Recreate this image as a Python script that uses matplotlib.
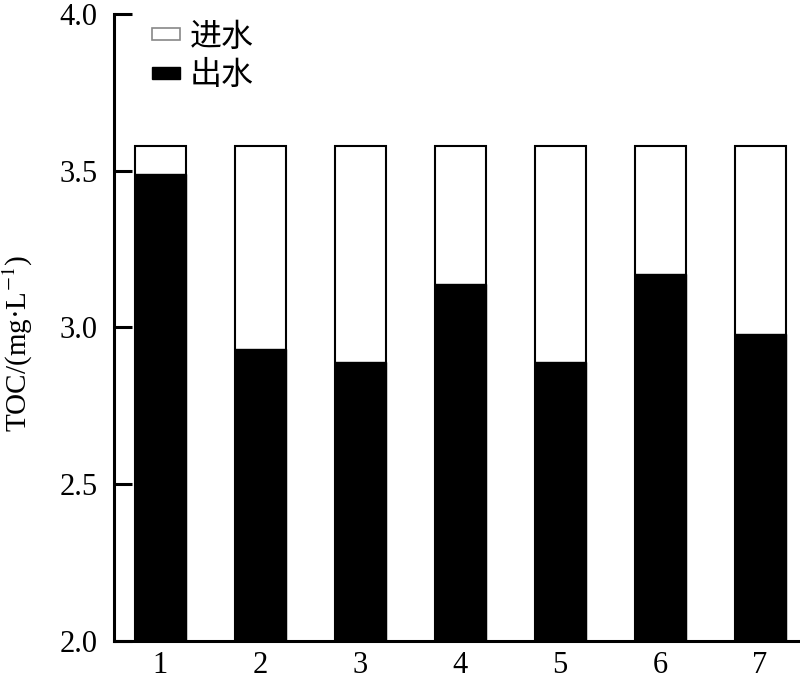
import matplotlib
matplotlib.use("Agg")
import matplotlib.pyplot as plt
from matplotlib.patches import Patch

categories = ["1", "2", "3", "4", "5", "6", "7"]
inflow = [3.58, 3.58, 3.58, 3.58, 3.58, 3.58, 3.58]
outflow = [3.49, 2.93, 2.89, 3.14, 2.89, 3.17, 2.98]
yticks = [2.0, 2.5, 3.0, 3.5, 4.0]
legend_labels = ["进水", "出水"]

plt.rcParams['font.family'] = ['Liberation Serif', 'Noto Sans CJK SC']
plt.rcParams['mathtext.fontset'] = 'stix'

fig = plt.figure(figsize=(8, 6.87), dpi=100)
ax = fig.add_axes([0.1425, 0.067, 0.8575, 0.9126])

x = list(range(1, len(categories) + 1))
base = 2.0
ax.bar(x, [v - base for v in inflow], bottom=base, width=0.51, color='white',
       edgecolor='black', linewidth=1.5, zorder=2)
ax.bar(x, [v - base for v in outflow], bottom=base, width=0.51, color='black',
       edgecolor='black', linewidth=1.0, zorder=3)

ax.set_xlim(0.536, 7.4)
ax.set_ylim(2.0, 4.0)
ax.set_yticks(yticks)
ax.set_yticklabels([f"{t:.1f}" for t in yticks])
ax.set_xticks(x)
ax.set_xticklabels(categories)

for s in ['top', 'right']:
    ax.spines[s].set_visible(False)
for s in ['left', 'bottom']:
    ax.spines[s].set_linewidth(2.2)
    ax.spines[s].set_zorder(5)

ax.tick_params(axis='y', direction='in', length=13, width=2.2, labelsize=22, pad=12)
ax.tick_params(axis='x', length=0, labelsize=22, pad=7)

ax.set_ylabel("TOC/(mg·L$^{-1}$)", fontsize=21)
ax.yaxis.set_label_coords(-0.115, 0.475)

handles = [Patch(facecolor='white', edgecolor='#888888', linewidth=1.2),
           Patch(facecolor='black', edgecolor='black')]
leg = ax.legend(handles, legend_labels, loc='upper left', bbox_to_anchor=(0.0135, 1.035),
                frameon=False, prop={'family': 'Noto Sans CJK SC', 'size': 23},
                handlelength=0.88, handleheight=0.2, handletextpad=0.3, labelspacing=0.2)

fig.savefig("out.png", dpi=100)
